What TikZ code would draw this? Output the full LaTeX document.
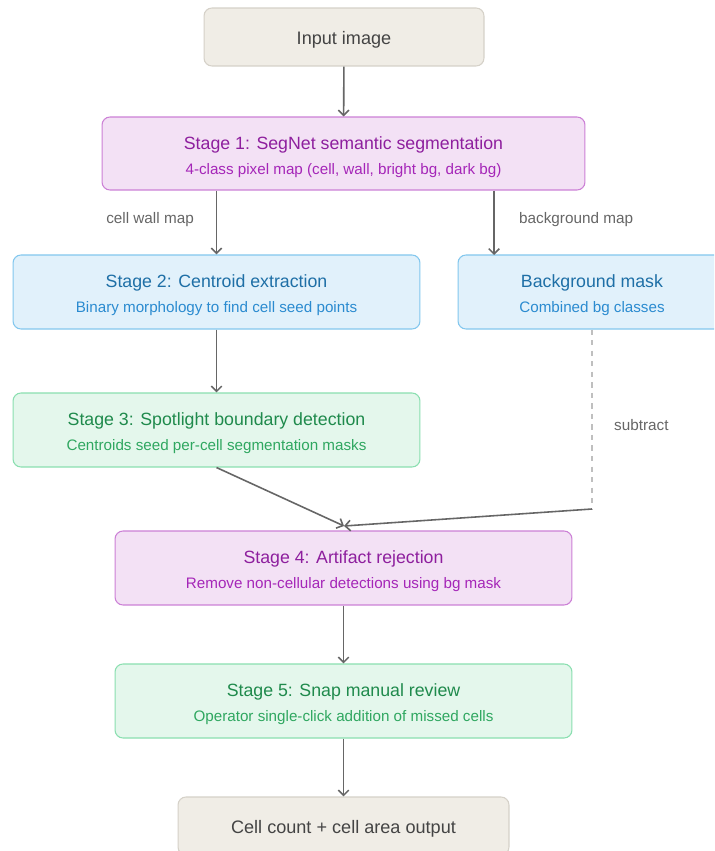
\documentclass[tikz,border=0pt]{standalone}
\usepackage{fontspec}
\setmainfont{Liberation Sans}
\usetikzlibrary{arrows.meta}
\definecolor{pipegrey}{HTML}{666666}
\definecolor{pipetext}{HTML}{444444}
\definecolor{iofill}{HTML}{F0EDE6}
\definecolor{ioline}{HTML}{D5D1C8}
\definecolor{segfill}{HTML}{F3E1F5}
\definecolor{segline}{HTML}{CC80D6}
\definecolor{segtitle}{HTML}{8E1F9E}
\definecolor{segsub}{HTML}{A526B8}
\definecolor{cenfill}{HTML}{E1F1FB}
\definecolor{cenline}{HTML}{82C7EE}
\definecolor{centitle}{HTML}{1E6FA6}
\definecolor{censub}{HTML}{2B8BD0}
\definecolor{spotfill}{HTML}{E4F7EC}
\definecolor{spotline}{HTML}{8ADFB0}
\definecolor{spottitle}{HTML}{1F8A4C}
\definecolor{spotsub}{HTML}{2FA760}

\tikzset{
  stagebox/.style={rectangle,rounded corners=4.5pt,line width=0.6pt,align=center,inner sep=0pt},
  iobox/.style={stagebox,fill=iofill,draw=ioline,text=pipetext,font=\fontsize{10.3}{12}\selectfont,text height=8pt,text depth=0pt},
  segbox/.style={stagebox,fill=segfill,draw=segline,text=segtitle},
  cenbox/.style={stagebox,fill=cenfill,draw=cenline,text=centitle},
  spotbox/.style={stagebox,fill=spotfill,draw=spotline,text=spottitle},
  arr/.style={draw=pipegrey,line width=0.9pt,-{Straight Barb[length=3pt,width=6pt,line width=0.9pt]}},
  edgelabel/.style={font=\fontsize{8.7}{10}\selectfont,text=pipegrey}
}
\newcommand{\stagetext}[3]{{\fontsize{10.1}{12}\selectfont\rule{0pt}{11.3pt}#1}\\[2.3pt]{\fontsize{8.65}{10}\selectfont\color{#3}#2}}

\begin{document}
\begin{tikzpicture}[x=0.02cm,y=-0.02cm]
\clip (0,0) rectangle (714,851);
\fill[white] (0,0) rectangle (714,851);
\node[iobox,minimum width=5.6cm,minimum height=1.16cm] (input) at (344,37) {Input image};
\node[segbox,minimum width=9.66cm,minimum height=1.46cm] (seg) at (343.5,153.5) {\stagetext{Stage 1: SegNet semantic segmentation}{4-class pixel map (cell, wall, bright bg, dark bg)}{segsub}};
\node[cenbox,minimum width=8.14cm,minimum height=1.48cm] (centroid) at (216.5,292) {\stagetext{Stage 2: Centroid extraction}{Binary morphology to find cell seed points}{censub}};
\node[cenbox,minimum width=5.36cm,minimum height=1.48cm] (bgmask) at (592,292) {\stagetext{Background mask}{Combined bg classes}{censub}};
\node[spotbox,minimum width=8.14cm,minimum height=1.48cm] (spot) at (216.5,430) {\stagetext{Stage 3: Spotlight boundary detection}{Centroids seed per-cell segmentation masks}{spotsub}};
\node[segbox,minimum width=9.14cm,minimum height=1.48cm] (artifact) at (343.5,568) {\stagetext{Stage 4: Artifact rejection}{Remove non-cellular detections using bg mask}{segsub}};
\node[spotbox,minimum width=9.14cm,minimum height=1.48cm] (review) at (343.5,701) {\stagetext{Stage 5: Snap manual review}{Operator single-click addition of missed cells}{spotsub}};
\node[iobox,minimum width=6.62cm,minimum height=1.16cm] (output) at (343.5,826) {Cell count + cell area output};
\coordinate (bgin) at (494,255);
\coordinate (bgturn) at (592,509);
\coordinate (join) at (344,526);
\draw[arr] (input) -- (seg);
\draw[arr] (seg.south -| centroid.north) -- (centroid.north);
\draw[arr] (seg.south -| bgin) -- (bgin);
\node[edgelabel,anchor=east] (wallmap) at (200,220) {cell wall map};
\node[edgelabel,anchor=west] (bgmap) at (513,220) {background map};
\draw[arr] (centroid) -- (spot);
\draw[arr] (spot.south) -- (join);
\draw[black!25,line width=0.6pt,dashed] (bgmask.south) -- (bgturn);
\draw[arr] (bgturn) -- (join);
\node[edgelabel,anchor=west] (subtract) at (608,425) {subtract};
\draw[arr] (artifact) -- (review);
\draw[arr] (review) -- (output);
\end{tikzpicture}
\end{document}
